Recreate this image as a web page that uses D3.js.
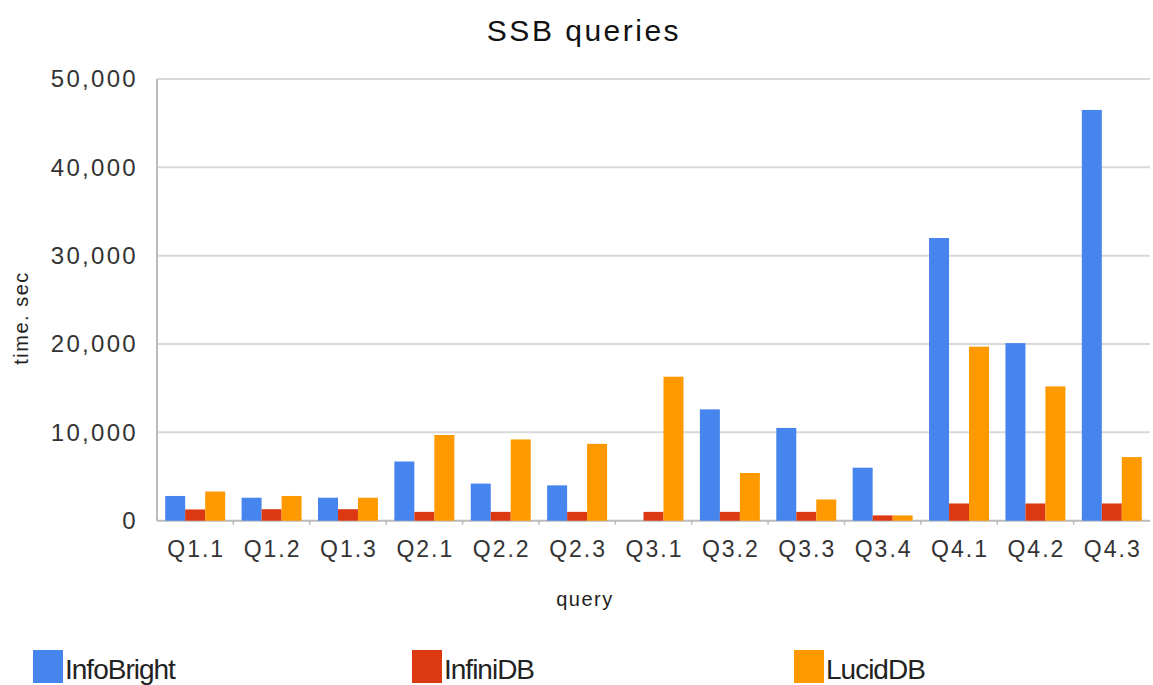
<!DOCTYPE html>
<html>
<head>
<meta charset="utf-8">
<script src="https://cdn.jsdelivr.net/npm/d3@7"></script>
<style>
  body { margin: 0; background: #fff; }
  text { font-family: "Liberation Sans", Arial, sans-serif; fill: #222; }
</style>
</head>
<body>
<svg width="1153" height="685"></svg>
<script>
// Data
var queries = ["Q1.1","Q1.2","Q1.3","Q2.1","Q2.2","Q2.3","Q3.1","Q3.2","Q3.3","Q3.4","Q4.1","Q4.2","Q4.3"];
var seriesNames = ["InfoBright", "InfiniDB", "LucidDB"];
var infoBright = [2800, 2600, 2600, 6700, 4200, 4000, 0, 12600, 10500, 6000, 32000, 20100, 46500];
var infiniDB   = [1270, 1300, 1300, 1000, 1000, 1000, 1000, 1000, 1000, 600, 1950, 1950, 1950];
var lucidDB    = [3300, 2800, 2600, 9700, 9200, 8700, 16300, 5400, 2400, 600, 19700, 15200, 7200];
var yTicks = [0, 10000, 20000, 30000, 40000, 50000];
var colors = ["#4684ee", "#dc3912", "#ff9900"];

var svg = d3.select("svg");

// plot box
var plotLeft = 157, plotRight = 1150, plotTop = 79, plotBottom = 520.7;

// build rows from the arrays
var rows = queries.map(function(q, i){
  return {q: q, values: [infoBright[i], infiniDB[i], lucidDB[i]]};
});

var x0 = d3.scaleBand()
    .domain(queries)
    .range([plotLeft, plotRight])
    .paddingInner(0.215)
    .paddingOuter(0.1075);

var x1 = d3.scaleBand()
    .domain([0, 1, 2])
    .range([0, x0.bandwidth()]);

var y = d3.scaleLinear()
    .domain([0, 50000])
    .range([plotBottom, plotTop]);

var color = d3.scaleOrdinal().domain([0,1,2]).range(colors);

// gridlines
svg.append("g")
  .selectAll("line")
  .data(yTicks)
  .enter()
  .append("line")
    .attr("x1", plotLeft)
    .attr("x2", plotRight)
    .attr("y1", function(d){ return y(d) })
    .attr("y2", function(d){ return y(d) })
    .attr("stroke", function(d){ return d === 0 ? "#bbb" : "#d9d9d9" })
    .attr("stroke-width", 2)

// y axis line
svg.append("line")
  .attr("x1", plotLeft).attr("x2", plotLeft)
  .attr("y1", plotTop).attr("y2", plotBottom)
  .attr("stroke", "#bbb").attr("stroke-width", 2)

// y tick labels
svg.append("g")
  .selectAll("text")
  .data(yTicks)
  .enter()
  .append("text")
    .attr("x", 138)
    .attr("y", function(d){ return y(d) })
    .attr("dy", "0.35em")
    .attr("text-anchor", "end")
    .style("font-size", "24px")
    .style("letter-spacing", "2.3px")
    .style("fill", "#333")
    .text(function(d){ return d3.format(",")(d) })

// small x ticks between groups
var step = x0.step();
svg.append("g")
  .selectAll("line")
  .data(queries.slice(1))
  .enter()
  .append("line")
    .attr("x1", function(d){ return x0(d) - step * 0.1075 })
    .attr("x2", function(d){ return x0(d) - step * 0.1075 })
    .attr("y1", plotBottom)
    .attr("y2", plotBottom + 4)
    .attr("stroke", "#bbb")
    .attr("stroke-width", 1.5)

// bars
svg.append("g")
  .selectAll("g")
  .data(rows)
  .enter()
  .append("g")
    .attr("transform", function(d){ return "translate(" + x0(d.q) + ",0)" })
  .selectAll("rect")
  .data(function(d){ return d.values.map(function(v, k){ return {k: k, v: v} }) })
  .enter()
  .append("rect")
    .attr("x", function(d){ return x1(d.k) })
    .attr("width", x1.bandwidth())
    .attr("y", function(d){ return y(d.v) })
    .attr("height", function(d){ return plotBottom - y(d.v) })
    .attr("fill", function(d){ return color(d.k) })

// x labels
svg.append("g")
  .selectAll("text")
  .data(queries)
  .enter()
  .append("text")
    .attr("x", function(d){ return x0(d) + x0.bandwidth() / 2 + 1 })
    .attr("y", 557)
    .attr("text-anchor", "middle")
    .style("font-size", "23px")
    .style("letter-spacing", "2px")
    .style("fill", "#333")
    .text(function(d){ return d })

// title
svg.append("text")
  .attr("x", 584).attr("y", 41)
  .attr("text-anchor", "middle")
  .style("font-size", "30px")
  .style("letter-spacing", "2.5px")
  .style("fill", "#111")
  .text("SSB queries")

// axis titles
svg.append("text")
  .attr("x", 585).attr("y", 606)
  .attr("text-anchor", "middle")
  .style("font-size", "20px")
  .style("letter-spacing", "1.5px")
  .text("query")

svg.append("text")
  .attr("transform", "translate(28,318) rotate(-90)")
  .attr("text-anchor", "middle")
  .style("font-size", "20px")
  .style("letter-spacing", "1.5px")
  .text("time. sec")

// legend
var legendX = [33, 412, 794];
var legend = svg.append("g")
  .selectAll("g")
  .data(seriesNames)
  .enter()
  .append("g")
    .attr("transform", function(d, i){ return "translate(" + legendX[i] + ",650)" })

legend.append("rect")
  .attr("width", 30).attr("height", 33)
  .attr("fill", function(d, i){ return colors[i] })

legend.append("text")
  .attr("x", 32).attr("y", 29)
  .style("font-size", "28px")
  .style("letter-spacing", "-1px")
  .text(function(d){ return d })
</script>
</body>
</html>
